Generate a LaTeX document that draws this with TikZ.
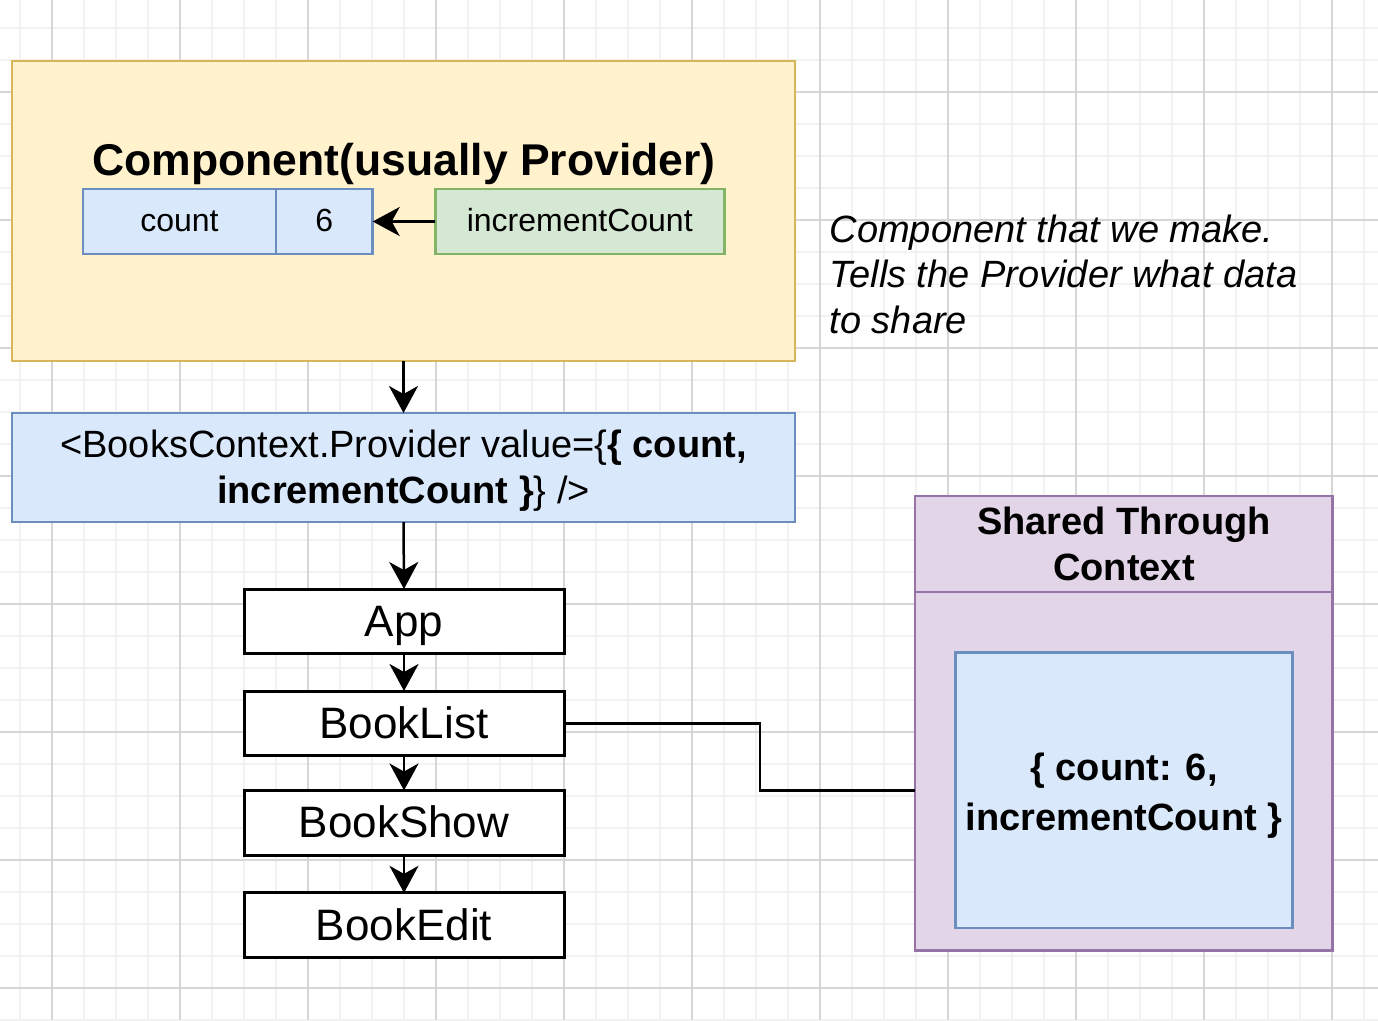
\documentclass[tikz,border=0pt]{standalone}
\usepackage{fontspec}
\setmainfont{Liberation Sans}
\usetikzlibrary{arrows.meta}
\definecolor{gridmin}{RGB}{242,242,242}
\definecolor{gridmaj}{RGB}{214,214,214}
\definecolor{yfill}{HTML}{FFF2CC}
\definecolor{ydraw}{HTML}{D6B656}
\definecolor{bfill}{HTML}{DAE8FC}
\definecolor{bdraw}{HTML}{6C8EBF}
\definecolor{gfill}{HTML}{D5E8D4}
\definecolor{gdraw}{HTML}{82B366}
\definecolor{pfill}{HTML}{E1D5E7}
\definecolor{pdraw}{HTML}{9673A6}
\tikzset{
  gridminor/.style={draw=gridmin, line width=2pt},
  gridmajor/.style={draw=gridmaj, line width=2pt},
  plainbox/.style={rectangle, inner sep=0pt, outer sep=0pt},
  ybox/.style={plainbox, fill=yfill, draw=ydraw, line width=2.5pt},
  bluebox/.style={plainbox, fill=bfill, draw=bdraw, line width=2.5pt},
  greenbox/.style={plainbox, fill=gfill, draw=gdraw, line width=2.5pt},
  purplebox/.style={plainbox, fill=pfill, draw=pdraw, line width=2.5pt},
  blackbox/.style={plainbox, fill=white, draw=black, line width=3pt,
    minimum width=320pt, minimum height=64.5pt, text height=32pt, text depth=2pt,
    font=\fontsize{44}{53}\selectfont},
  smalltxt/.style={text height=23pt, text depth=4pt, font=\fontsize{32}{38}\selectfont},
  midtxt/.style={inner sep=0pt, font=\fontsize{38}{46}\selectfont},
  conn/.style={draw=black, line width=2.5pt},
  arr/.style={conn, -{Stealth[length=27pt,width=29pt,inset=8pt]}},
}
\begin{document}
\begin{tikzpicture}[x=1pt,y=-1pt]
\useasboundingbox (0,0) rectangle (1378,1020);
\fill[white] (0,0) rectangle (1378,1020);
% grid
\foreach \i in {0,...,42} {\draw[gridminor] ({19.5+32*\i},0) -- ++(0,1020);}
\foreach \i in {0,...,32} {\draw[gridminor] (0,{28.3+32*\i}) -- ++(1378,0);}
\foreach \i in {0,...,10} {\draw[gridmajor] ({51.5+128*\i},0) -- ++(0,1020);}
\foreach \i in {0,...,7} {\draw[gridmajor] (0,{92.3+128*\i}) -- ++(1378,0);}

% component box
\node[ybox, minimum width=783pt, minimum height=300pt] (comp) at (403.5,211) {};
\node[anchor=base, font=\fontsize{44.5}{53}\selectfont\bfseries] (title) at (404,175.7) {Component(usually Provider)};
\node[bluebox, smalltxt, minimum width=193pt, minimum height=65pt] (count) at (179.5,221.5) {count};
\node[bluebox, smalltxt, minimum width=96.7pt, minimum height=65pt] (six) at (324.35,221.5) {6};
\node[greenbox, smalltxt, minimum width=289pt, minimum height=65pt] (inc) at (579.75,221.5) {incrementCount};
\draw[arr] (inc.west) -- (six.east);

% comment
\node[anchor=base west, align=left, inner sep=0pt, font=\fontsize{38}{45.5}\selectfont\itshape] (note) at (829.5,333.3)
  {Component that we make.\\Tells the Provider what data\\to share};

% provider
\node[bluebox, minimum width=783pt, minimum height=109pt] (prov) at (403.5,467.5) {};
\node[midtxt, align=center, anchor=base] (provtext) at (403.5,503.3)
  {<BooksContext.Provider value=\{\textbf{\{ count,}\\\textbf{incrementCount \}}\} />};
\draw[arr] (comp.south) -- (prov.north);

% tree
\node[blackbox] (app) at (404,621.25) {App};
\node[blackbox] (booklist) at (404,723.25) {BookList};
\node[blackbox] (bookshow) at (404,822.75) {BookShow};
\node[blackbox] (bookedit) at (404,925.1) {BookEdit};
\draw[arr] (prov.south) -- (app.north);
\draw[arr] (app.south) -- (booklist.north);
\draw[arr] (booklist.south) -- (bookshow.north);
\draw[arr] (bookshow.south) -- (bookedit.north);

% shared container
\node[purplebox, minimum width=417.3pt, minimum height=454.3pt] (shared) at (1123.65,723.15) {};
\coordinate (hdiv) at (0,592);
\draw[draw=pdraw, line width=2.5pt] (shared.west |- hdiv) -- (shared.east |- hdiv);
\node[align=center, anchor=base, inner sep=0pt, font=\fontsize{38}{45.7}\selectfont\bfseries] (sharedtitle) at (1124,580) {Shared Through\\Context};
\node[bluebox, minimum width=337.4pt, minimum height=275.3pt] (val) at (1124,790.35) {};
\node[align=center, anchor=base, inner sep=0pt, font=\fontsize{38}{50}\selectfont\bfseries] (valtext) at (1124,830)
  {\{ count: 6,\\incrementCount \}};

% connector
\coordinate (bend) at (760,790.3);
\draw[conn] (booklist.east) -| (bend) -- (bend -| shared.west);
\end{tikzpicture}
\end{document}
